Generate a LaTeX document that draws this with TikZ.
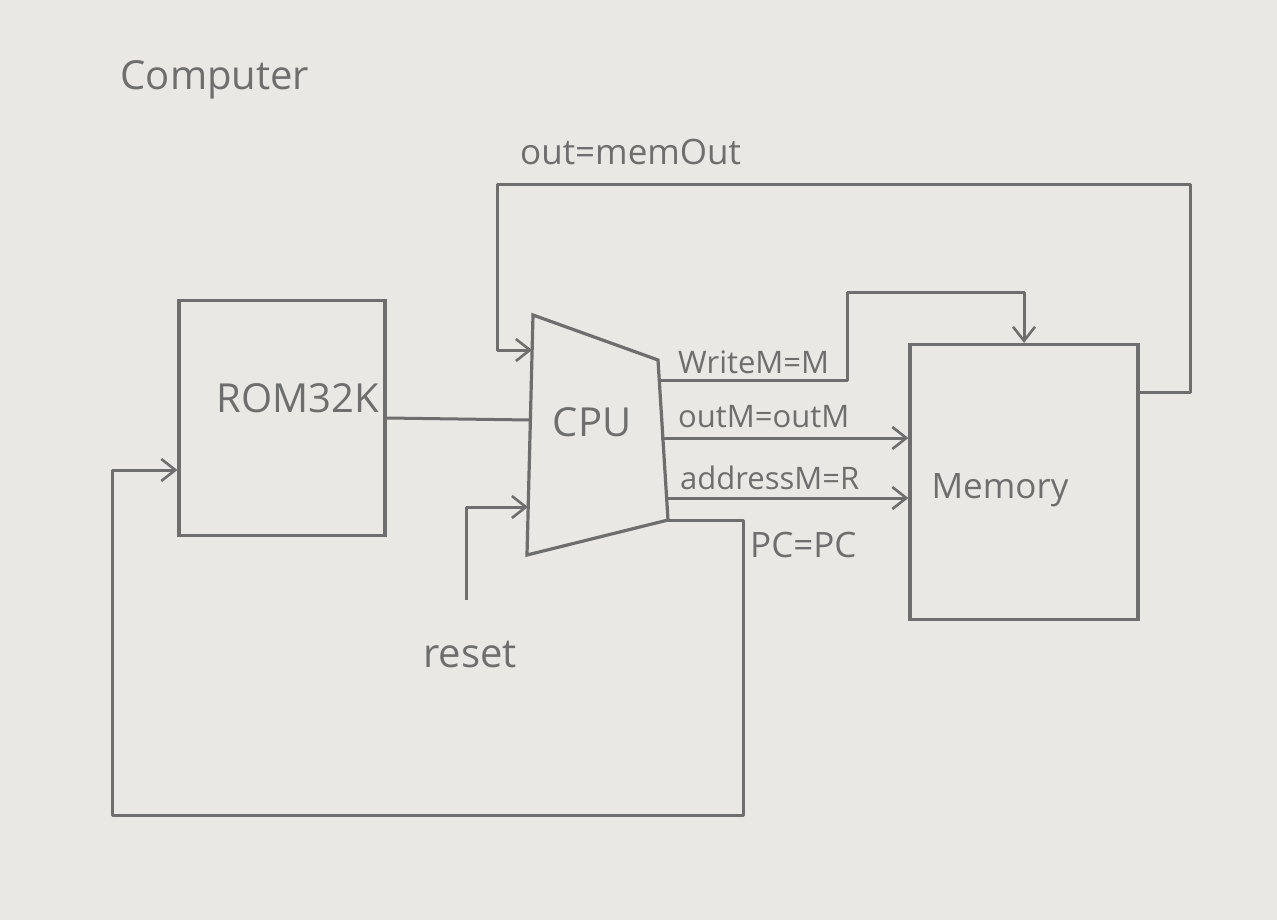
\documentclass[tikz,border=0pt]{standalone}
\usepackage{fontspec}
\setmainfont{Open Sans}
\usetikzlibrary{arrows.meta,calc}
\definecolor{paper}{HTML}{E9E8E4}
\definecolor{pencil}{HTML}{6E6E6E}
\tikzset{
  wire/.style={draw=pencil,line width=3pt,line join=round},
  arrowwire/.style={wire,-{Straight Barb[length=14pt,width=22pt,line width=2.6pt]}},
  block/.style={draw=pencil,line width=3.2pt,fill=none,inner sep=0pt},
  lbl/.style={text=pencil,inner sep=0pt},
  big/.style={lbl,font=\fontsize{40}{46}\selectfont},
  mid/.style={lbl,font=\fontsize{35}{40}\selectfont},
  small/.style={lbl,font=\fontsize{31}{36}\selectfont},
}
\begin{document}
\begin{tikzpicture}[x=1pt,y=-1pt]
\fill[paper] (0,0) rectangle (1277,920);
\useasboundingbox (0,0) rectangle (1277,920);

% title
\node[big] (title) at (215,80) {Computer};

% blocks
\node[block,minimum width=206pt,minimum height=235pt] (rom) at (282,418) {};
\node[big] (romlbl) at (298,398) {ROM32K};
\node[block,minimum width=228pt,minimum height=275pt] (mem) at (1024,482) {};
\node[mid] (memlbl) at (1000,490) {Memory};

% CPU trapezoid
\coordinate (cpuTL) at (533,315);
\coordinate (cpuTR) at (658,360);
\coordinate (cpuBR) at (668,520);
\coordinate (cpuBL) at (527,555);
\draw[block] (cpuTL) -- (cpuTR) -- (cpuBR) -- (cpuBL) -- cycle;
\node[big] (cpu) at (592,422) {CPU};

% CPU ports
\coordinate (cpuIn1) at (532,350);
\coordinate (cpuIn2) at (530,420);
\coordinate (cpuIn3) at (528,507);
\coordinate (cpuOut1) at (659,380);
\coordinate (cpuOut2) at (661,438);
\coordinate (cpuOut3) at (665,498);
\coordinate (cpuOut4) at (668,520);

% ROM -> CPU
\draw[wire] (rom.east) -- (cpuIn2);

% out = memOut
\coordinate (memOutP) at ($(mem.north east)+(0,50)$);
\coordinate (oTop) at (1190,185);
\coordinate (oLeft) at (497,350);
\draw[arrowwire] (memOutP) -| (oTop) -| (oLeft) -- (cpuIn1);
\node[mid,anchor=south west] (outlbl) at (520,165) {out=memOut};

% WriteM
\coordinate (wA) at (847,292);
\draw[arrowwire] (cpuOut1) -| (wA) -| (mem.north);
\node[small,anchor=south west] (wlbl) at (678,374) {WriteM=M};

% outM
\draw[arrowwire] (cpuOut2) -- (cpuOut2 -| mem.west);
\node[small,anchor=south west] (olbl) at (678,428) {outM=outM};

% addressM
\draw[arrowwire] (cpuOut3) -- (cpuOut3 -| mem.west);
\node[small,anchor=south west] (albl) at (680,490) {addressM=R};

% PC
\coordinate (pcBR) at (743,815);
\coordinate (pcL) at (112,470);
\draw[arrowwire] (cpuOut4) -| (pcBR) -| (pcL) -- (pcL -| rom.west);
\node[mid,anchor=north west] (pclbl) at (750,532) {PC=PC};

% reset
\node[big] (resetlbl) at (470,655) {reset};
\coordinate (rs) at (466,600);
\draw[arrowwire] (rs) |- (cpuIn3);
\end{tikzpicture}
\end{document}
